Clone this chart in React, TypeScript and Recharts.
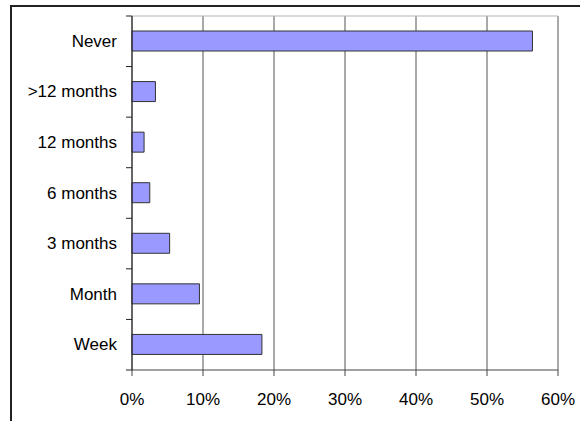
import React from 'react';
import { BarChart, Bar, XAxis, YAxis, CartesianGrid } from 'recharts';

const categories = ['Never', '>12 months', '12 months', '6 months', '3 months', 'Month', 'Week'];
const shares = [56.4, 3.3, 1.7, 2.5, 5.3, 9.5, 18.3];
const xTicks = [0, 10, 20, 30, 40, 50, 60];

const data = categories.map((name, i) => ({ name, value: shares[i] }));

const W = 580;
const H = 421;
const TOP = 16;
const RIGHT = 22;
const YAXIS_W = 132;
const XAXIS_H = 51;
const BAND = (H - TOP - XAXIS_H) / categories.length;
const FONT = '"Liberation Sans", Arial, sans-serif';

const CategoryTick = (props: any) => {
  const { y, payload, index } = props;
  const axisX = YAXIS_W;
  return (
    <g>
      <line x1={axisX - 6} x2={axisX} y1={y - BAND / 2} y2={y - BAND / 2} stroke="#222" />
      {index === categories.length - 1 && (
        <line x1={axisX - 6} x2={axisX} y1={y + BAND / 2} y2={y + BAND / 2} stroke="#222" />
      )}
      <text x={axisX - 15} y={y} textAnchor="end" dominantBaseline="central" fontSize={17} fontFamily={FONT} fill="#000">
        {payload.value}
      </text>
    </g>
  );
};

export default function App() {
  return (
    <div style={{ position: 'absolute', left: 0, top: 0, width: W, height: H, background: '#fff', overflow: 'hidden' }}>
      <div style={{ position: 'absolute', left: 10, top: 5, width: W, height: H, borderTop: '2px solid #222', borderLeft: '2px solid #222' }} />
      <div style={{ position: 'absolute', left: 0, top: 0 }}>
        <BarChart
          width={W}
          height={H}
          data={data}
          layout="vertical"
          margin={{ top: TOP, right: RIGHT, bottom: 0, left: 0 }}
          barSize={20}
        >
          <CartesianGrid horizontal={false} stroke="#555" />
          <CartesianGrid vertical={false} horizontalPoints={[TOP]} stroke="#b5b5b5" />
          <XAxis
            type="number"
            domain={[0, 60]}
            ticks={xTicks}
            tickFormatter={(v: number) => `${v}%`}
            height={XAXIS_H}
            tickSize={6}
            tickMargin={17}
            stroke="#444"
            tick={{ fill: '#000', fontSize: 17, fontFamily: FONT }}
            interval={0}
          />
          <YAxis
            type="category"
            dataKey="name"
            width={YAXIS_W}
            tickLine={false}
            stroke="#222"
            tick={<CategoryTick />}
            interval={0}
          />
          <Bar dataKey="value" fill="#9999ff" stroke="#333" strokeWidth={1} isAnimationActive={false} />
        </BarChart>
      </div>
    </div>
  );
}
